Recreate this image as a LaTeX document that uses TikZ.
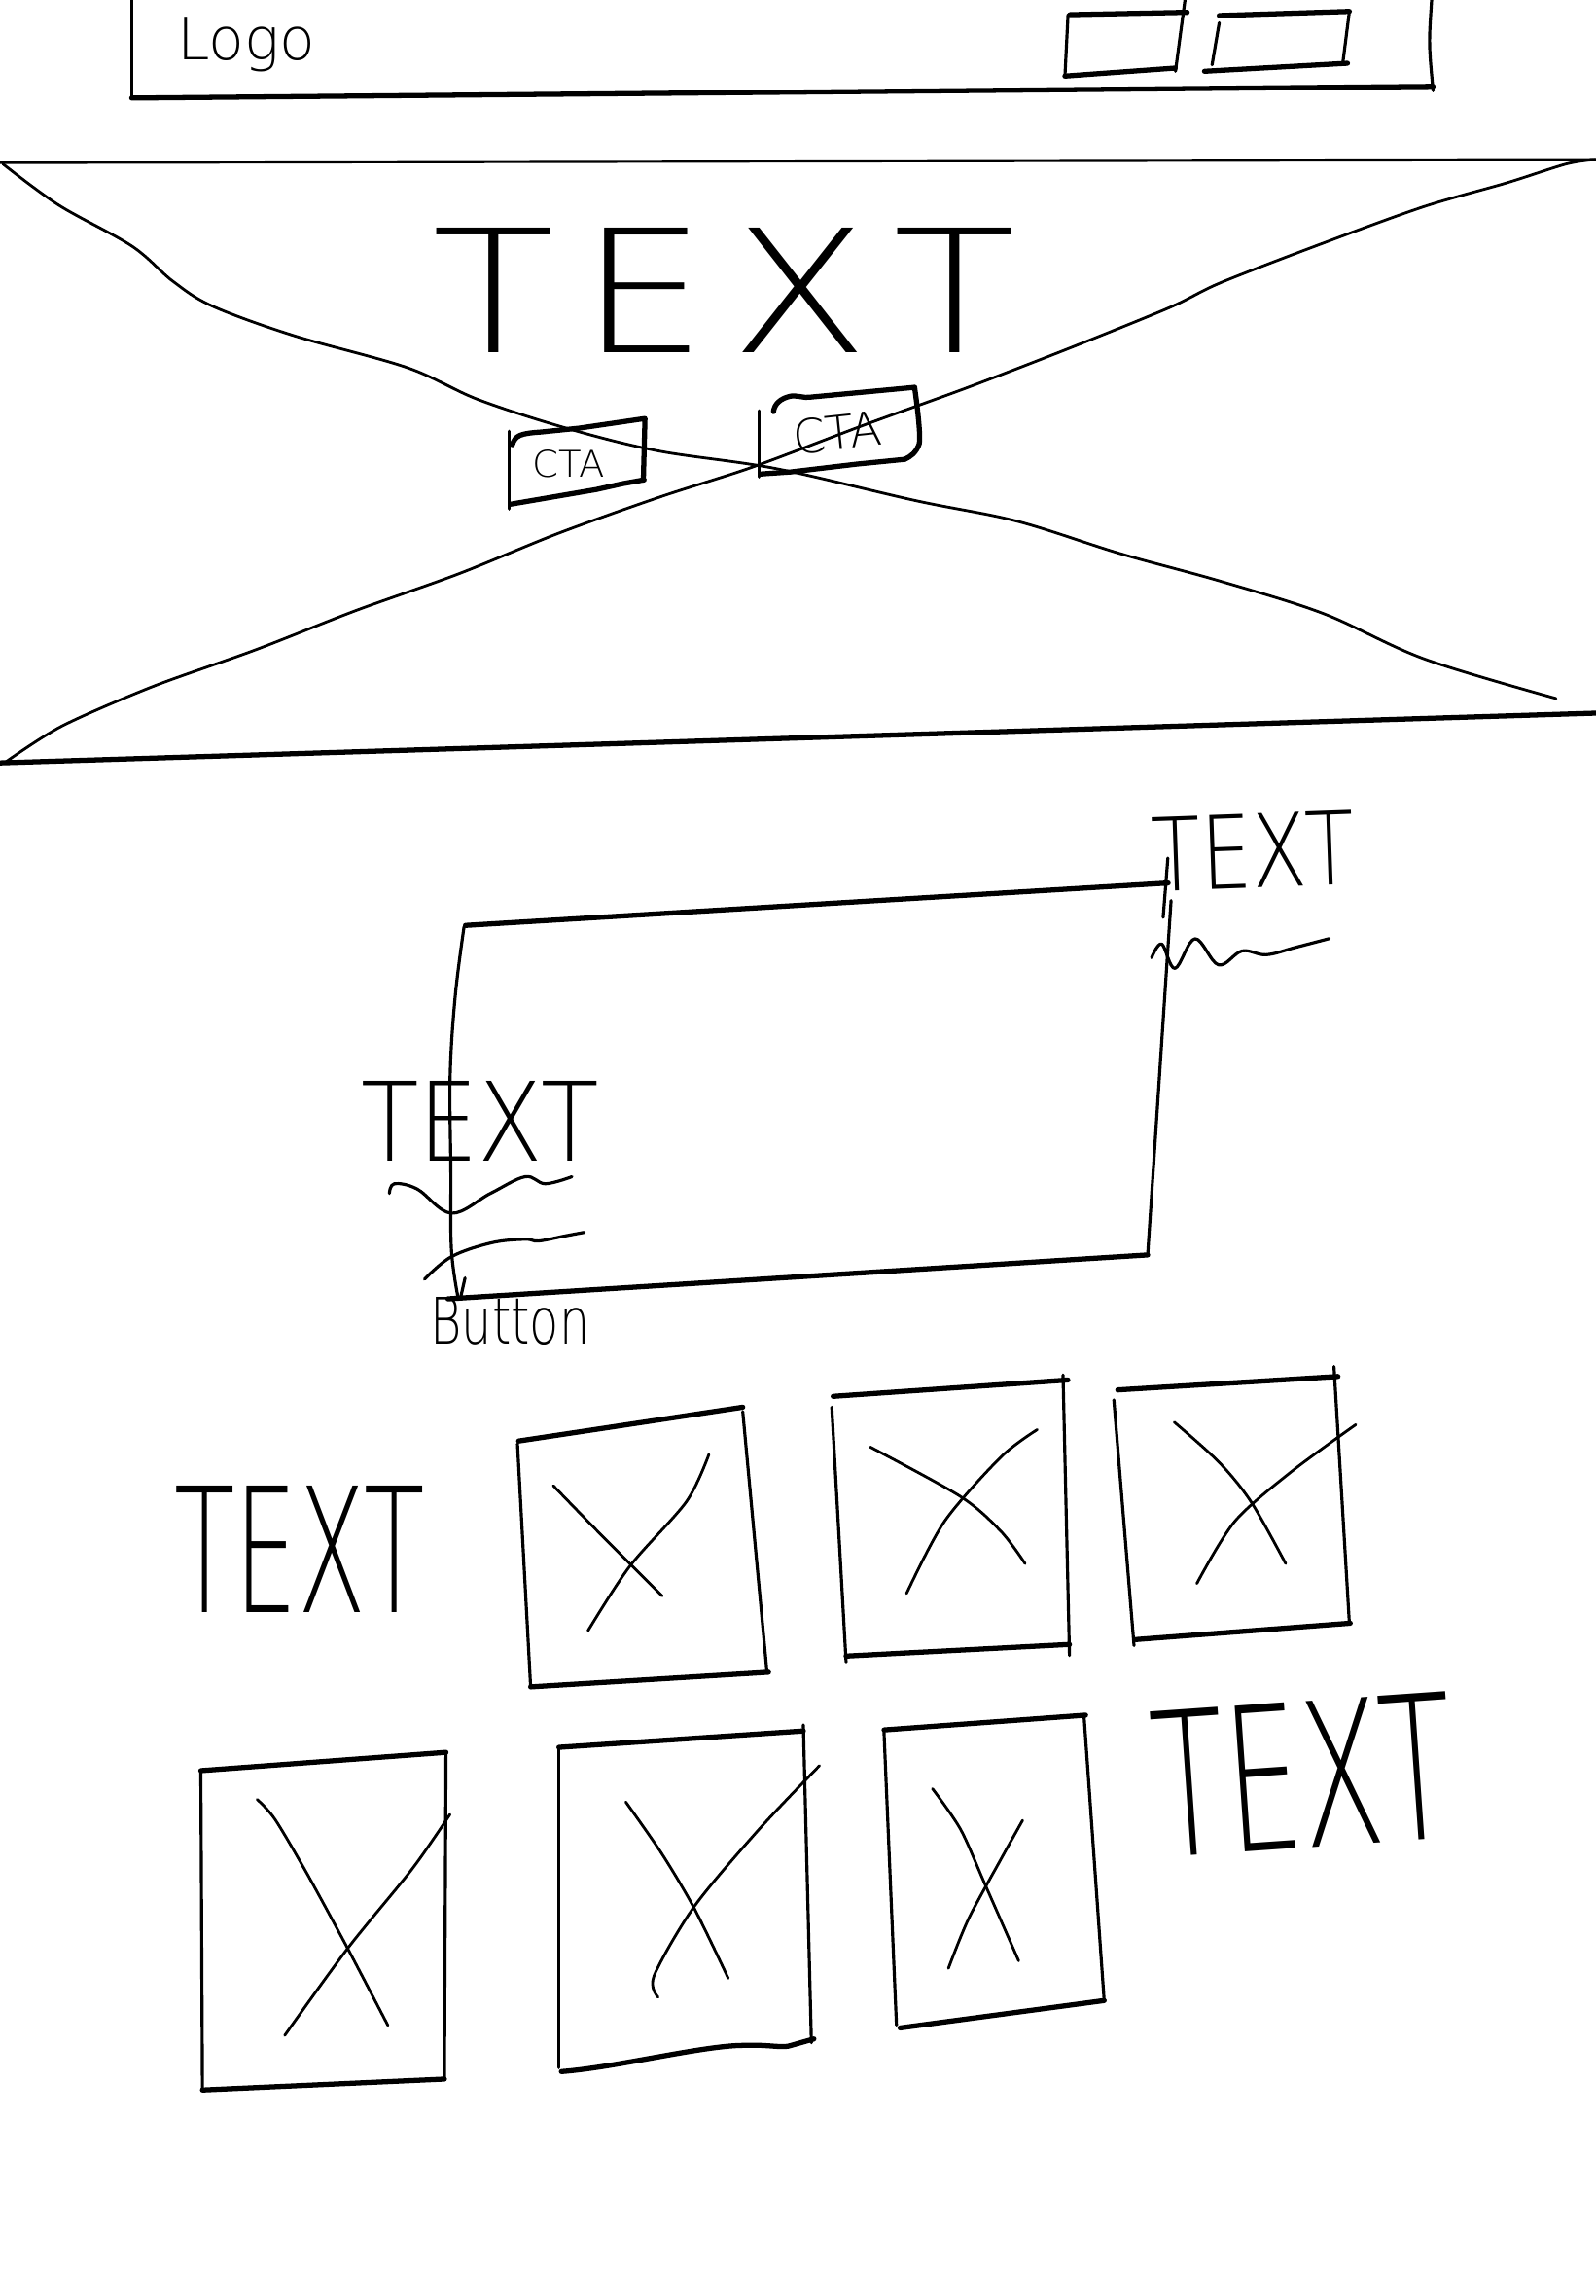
\documentclass[tikz,border=0pt]{standalone}
\usepackage{fontspec}
\newfontfamily\hand{DejaVu Sans ExtraLight}
\begin{document}
\begin{tikzpicture}[x=0.015046cm,y=-0.015046cm,
  pen/.style={line width=0.9pt,line cap=round,line join=round},
  penthick/.style={line width=1.5pt,line cap=round,line join=round},
  pencross/.style={line width=0.8pt,line cap=round,line join=round},
  lbl/.style={inner sep=0pt,outer sep=0pt}]
\useasboundingbox[fill=white] (0,0) rectangle (1090,1568);

% ---------- header ----------
\draw[pen] (90,0) -- (90,67);
\draw[penthick] (90,67) -- (979,59);
\draw[pen] (978,0) .. controls (976,30) .. (979,62);
\node[lbl,anchor=north west] (logo) at (121,12) {\resizebox{1.42cm}{!}{\hand Logo}};
% nav box 1
\draw[penthick] (731,10) -- (811,8.4);
\draw[pen] (729.6,10) -- (727.5,52);
\draw[penthick] (727.5,52) -- (802.8,46.5);
\draw[pen] (809.5,0) -- (803,48.7);
% nav box 2
\draw[penthick] (832.9,10.6) -- (921.8,7.8);
\draw[pen] (832.9,15.5) -- (828,44.3);
\draw[penthick] (822.8,48.7) -- (920.5,43.2);
\draw[pen] (921.8,7.8) -- (917.3,43.2);

% ---------- hero ----------
\draw[pen] (0,111) -- (1090,109);
\draw[penthick] (0,521) -- (1090,487);
\draw[pencross] plot[smooth,tension=0.55] coordinates {(2,112) (40,140) (90,168) (118,192) (145,209) (200,229) (278,251) (327,273) (389,293) (450,308) (530,320) (626,342) (695,356) (765,378) (834,397) (904,419) (973,450) (1063,477)};
\draw[pencross] plot[smooth,tension=0.5] coordinates {(3,521) (42,496) (104,469) (174,444) (243,417) (313,392) (382,364) (452,339) (514,319) (591,290) (660,265) (730,238) (799,210) (834,193) (904,166) (973,141) (1029,125) (1070,112) (1090,109)};
\node[lbl] (herotext) at (495,198) {\resizebox{6.0cm}{1.28cm}{\hand T\kern.12em E\kern.12em X\kern.12em T}};
% CTA 1
\draw[pen] (347.6,294.5) -- (347.6,347.6);
\draw[penthick] (350,303.7) .. controls (352,297) and (356,296) .. (370,295) -- (395.5,292.4) -- (440.6,285.8) -- (439.5,327.8);
\draw[penthick] (349,344.3) -- (407.4,334.3) -- (425.4,330.3) -- (440,327.7);
\node[lbl] (cta1) at (388.5,316.5) {\resizebox{0.74cm}{0.28cm}{\hand CTA}};
% CTA 2
\draw[pen] (518.4,280.5) -- (518.4,325.7);
\draw[penthick] (528.4,281.1) .. controls (529,276) and (533,272) .. (540.3,270.5) .. controls (546,270) and (549,272) .. (553.6,271.2) -- (624.8,264.5);
\draw[penthick] (624.8,264.5) .. controls (627,280) and (629,298) .. (628,303) .. controls (626,309) and (622,312) .. (618,313.7);
\draw[penthick] (519.7,323.7) -- (540.3,322.3) -- (584.9,317) -- (618,313.7);
\node[lbl,rotate=6] (cta2) at (572,295.5) {\resizebox{0.92cm}{0.36cm}{\hand CTA}};

% ---------- feature block ----------
\draw[penthick] (318,632) -- (798,603);
\draw[pen] plot[smooth,tension=0.6] coordinates {(317,633) (311,680) (307.5,735) (308,800) (308.4,853.5) (313,886.6)};
\draw[pen] (800,615) -- (784,857);
\draw[pen] (797.8,586) -- (794.6,626.5);
\draw[penthick] (306,887) -- (784,857);
\draw[pen] (317.7,872.7) -- (314.4,887.3);
\node[lbl,rotate=2] (featrtext) at (856,581) {\resizebox{2.08cm}{0.76cm}{\hand TEXT}};
\draw[pen] plot[smooth,tension=0.6] coordinates {(786.7,654) (793.6,644.7) (802.7,661.3) (816.4,641.1) (832.4,658.9) (848.5,649.4) (865,652) (885,647) (908,641)};
\node[lbl] (featltext) at (328,766) {\resizebox{2.45cm}{0.82cm}{\hand TEXT}};
\draw[pen] plot[smooth,tension=0.6] coordinates {(266,815) (269.4,808.4) (285,812) (308.4,828.5) (335,815) (358.7,803.6) (372.5,808.4) (390.7,803.6)};
\draw[pen] plot[smooth,tension=0.6] coordinates {(290,873.6) (308.4,858.2) (335.8,848.7) (358.7,846.3) (367.9,847.5) (386.2,844) (399,841.6)};
\node[lbl] (button) at (348.5,902.5) {\resizebox{1.64cm}{0.48cm}{\hand Button}};

% ---------- gallery row 1 ----------
\node[lbl] (galltext) at (204.5,1058) {\resizebox{2.57cm}{1.3cm}{\hand TEXT}};
% box A
\draw[penthick] (354.3,984.1) -- (507.4,961);
\draw[pen] (353.5,986) -- (362.5,1152);
\draw[pen] (507.4,964) -- (524,1142.4);
\draw[penthick] (362.5,1152) -- (525,1142);
\draw[pencross] plot[smooth,tension=0.5] coordinates {(378,1014.6) (408.3,1045.8) (452.3,1089.9)};
\draw[pencross] plot[smooth,tension=0.5] coordinates {(484.3,993.2) (468.9,1025.5) (430.3,1069.5) (401.7,1113.6)};
% box B
\draw[penthick] (569.2,953.6) -- (729.5,942.4);
\draw[pen] (568.2,961) -- (578,1135);
\draw[pen] (726.2,939) -- (730.6,1130.6);
\draw[penthick] (578,1131) -- (730.6,1123);
\draw[pencross] plot[smooth,tension=0.5] coordinates {(594.5,988.2) (656.2,1022) (683.8,1045.8) (700.3,1067.8)};
\draw[pencross] plot[smooth,tension=0.5] coordinates {(708.6,976.3) (683.8,995) (645.2,1039) (619.3,1088.2)};
% box C
\draw[penthick] (763.6,949.2) -- (914,940);
\draw[pen] (760.9,956) -- (774.7,1123.8);
\draw[pen] (911.3,933.2) -- (921.8,1108.5);
\draw[penthick] (775.8,1119.7) -- (922.4,1108.5);
\draw[pencross] plot[smooth,tension=0.5] coordinates {(802.2,971.2) (832.5,998.3) (854.6,1025.5) (878.3,1067.8)};
\draw[pencross] plot[smooth,tension=0.5] coordinates {(926.2,972.9) (882.1,1005.1) (843.5,1039) (817.6,1081.4)};

% ---------- gallery row 2 ----------
% box D
\draw[penthick] (137.2,1209.2) -- (304.7,1196.7);
\draw[pen] (137.2,1209.2) -- (138.3,1427.3);
\draw[pen] (304.7,1196.7) -- (303.6,1419.8);
\draw[penthick] (138.3,1427.3) -- (303.6,1419.8);
\draw[pencross] plot[smooth,tension=0.5] coordinates {(175.7,1228.9) (187.9,1242.5) (209.9,1279.8) (237.5,1330.6) (265,1383.2)};
\draw[pencross] plot[smooth,tension=0.5] coordinates {(307.4,1239.1) (281.5,1276.4) (237.5,1330.6) (194.5,1390)};
% box E
\draw[penthick] (381.8,1193.3) -- (548.8,1182.1);
\draw[pen] (381.8,1194.3) -- (381.8,1412);
\draw[pen] (548.8,1178) -- (554.3,1395);
\draw[penthick] (383.5,1414.7) .. controls (420,1412) and (480,1397) .. (507.4,1396.8) .. controls (525,1396) and (535,1399) .. (540.5,1396.8) -- (556,1392.4);
\draw[pencross] plot[smooth,tension=0.5] coordinates {(427.5,1230.6) (452.3,1266.2) (474.4,1303.5) (497.5,1351)};
\draw[pencross] plot[smooth,tension=0.5] coordinates {(559.8,1205.8) (518.5,1249.3) (474.4,1301.8) (446.8,1349.3) (449.6,1363.9)};
% box F
\draw[penthick] (603.9,1181.4) -- (741.6,1171.3);
\draw[pen] (603.9,1183) -- (612.4,1383);
\draw[pen] (740.5,1171.3) -- (754.3,1366.2);
\draw[penthick] (614.9,1384.9) -- (754.3,1366.2);
\draw[pencross] plot[smooth,tension=0.5] coordinates {(637,1221.5) (656.2,1249.3) (672.8,1286.6) (695.9,1339.1)};
\draw[pencross] plot[smooth,tension=0.5] coordinates {(698.6,1243.1) (683.8,1269.6) (661.7,1310.3) (647.9,1344.2)};
\node[lbl,rotate=4] (galrtext) at (890,1212) {\resizebox{3.1cm}{1.5cm}{\hand TEXT}};
\end{tikzpicture}
\end{document}
